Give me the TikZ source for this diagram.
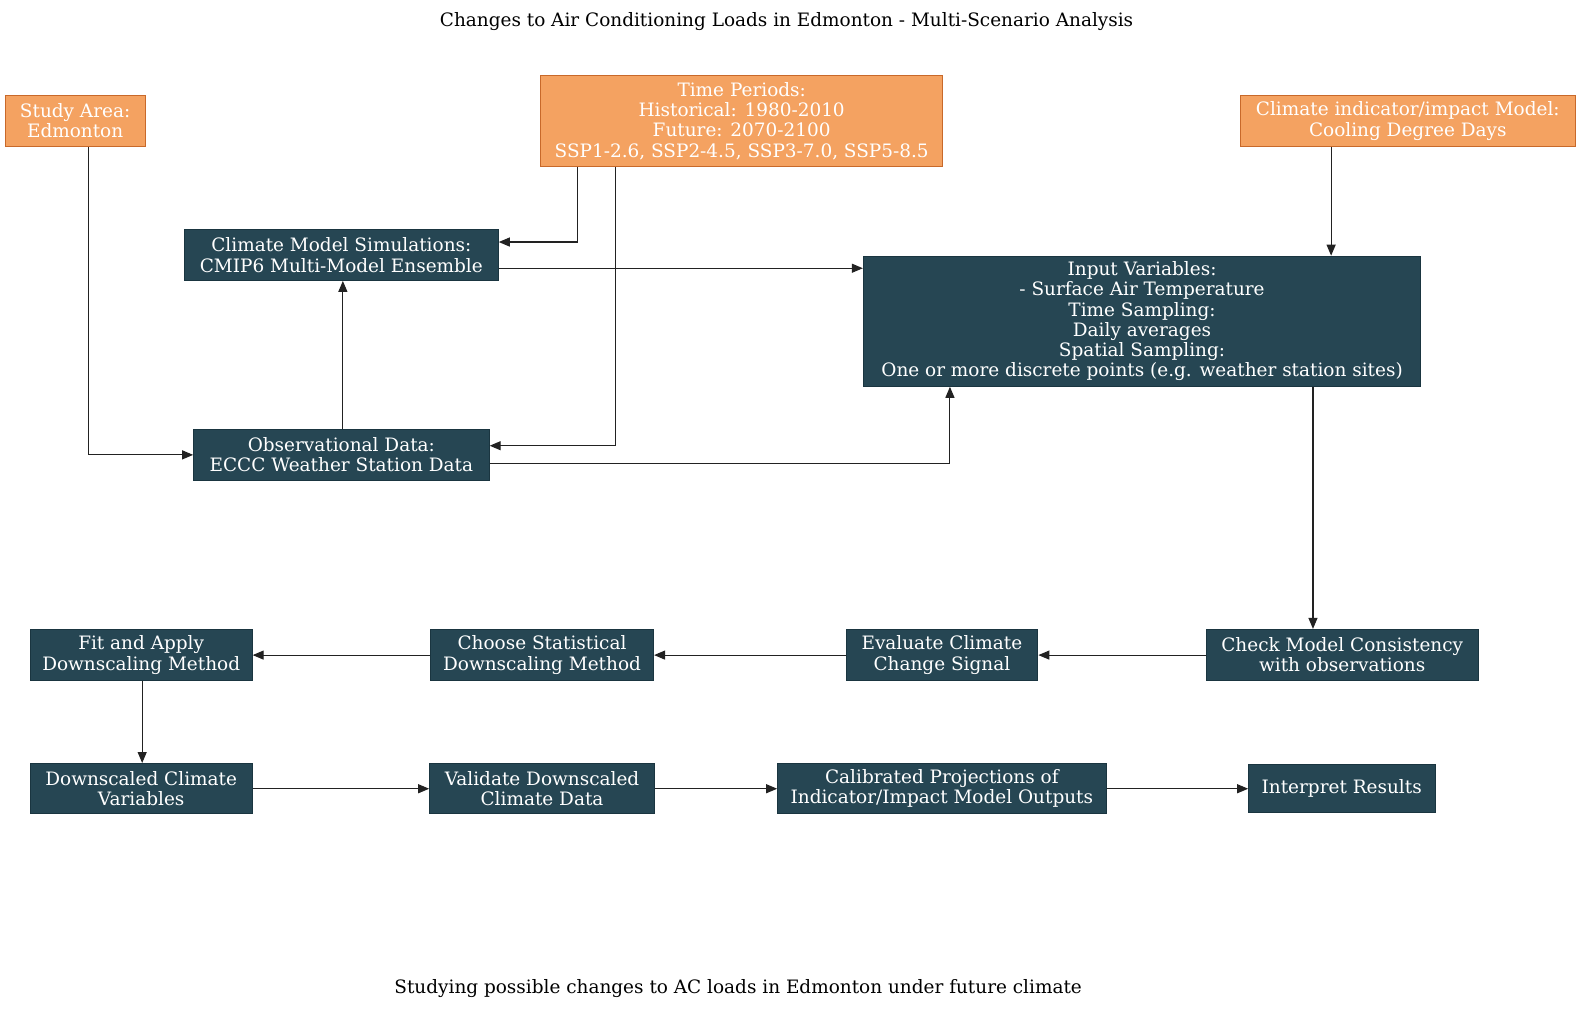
\documentclass[tikz,border=0pt]{standalone}
\usepackage{fontspec}
\setmainfont{DejaVu Serif}
\usetikzlibrary{arrows.meta}
\definecolor{orfill}{HTML}{F4A261}
\definecolor{ordraw}{HTML}{C8692A}
\definecolor{dkfill}{HTML}{264653}
\definecolor{dkdraw}{HTML}{1A3540}
\definecolor{edgec}{HTML}{222222}
\tikzset{
  base/.style={rectangle, align=center, text=white, inner sep=0pt, line width=1pt,
    font=\fontsize{18.3}{20}\selectfont},
  orbox/.style={base, fill=orfill, draw=ordraw},
  dkbox/.style={base, fill=dkfill, draw=dkdraw},
  conn/.style={draw=edgec, line width=1.1pt, -{Triangle[length=11pt,width=9pt]}},
  lbl/.style={font=\fontsize{18.3}{20}\selectfont, text=black, inner sep=0pt}
}
\begin{document}
\begin{tikzpicture}[x=1pt,y=-1pt,scale=1.0084,every node/.append style={transform shape}]
\useasboundingbox (0,0) rectangle (1567.8,1008.5);
\fill[white] (0,0) rectangle (1567.8,1008.5);

\node[lbl] (title) at (780,21) {Changes to Air Conditioning Loads in Edmonton - Multi-Scenario Analysis};
\node[lbl] (cap) at (732,980) {Studying possible changes to AC loads in Edmonton under future climate};

% orange nodes
\node[orbox, minimum width=139, minimum height=50] (study) at (74.5,120) {Study Area:\\Edmonton};
\node[orbox, minimum width=399, minimum height=90] (time) at (735.5,120) {Time Periods:\\Historical: 1980-2010\\Future: 2070-2100\\SSP1-2.6, SSP2-4.5, SSP3-7.0, SSP5-8.5};
\node[orbox, minimum width=332, minimum height=50] (cind) at (1396,120) {Climate indicator/impact Model:\\Cooling Degree Days};

% dark nodes
\node[dkbox, minimum width=311, minimum height=50] (cms) at (338.5,253) {Climate Model Simulations:\\CMIP6 Multi-Model Ensemble};
\node[dkbox, minimum width=553, minimum height=129] (inp) at (1132.5,318.5) {Input Variables:\\- Surface Air Temperature\\Time Sampling:\\Daily averages\\Spatial Sampling:\\One or more discrete points (e.g. weather station sites)};
\node[dkbox, minimum width=293, minimum height=50] (obs) at (338.5,451) {Observational Data:\\ECCC Weather Station Data};

\node[dkbox, minimum width=220, minimum height=51] (fit) at (140,649.5) {Fit and Apply\\Downscaling Method};
\node[dkbox, minimum width=221, minimum height=51] (choose) at (537.5,649.5) {Choose Statistical\\Downscaling Method};
\node[dkbox, minimum width=190, minimum height=51] (eval) at (934,649.5) {Evaluate Climate\\Change Signal};
\node[dkbox, minimum width=270, minimum height=51] (check) at (1331,649.5) {Check Model Consistency\\with observations};

\node[dkbox, minimum width=220, minimum height=50] (down) at (140,782) {Downscaled Climate\\Variables};
\node[dkbox, minimum width=223, minimum height=50] (valid) at (537.5,782) {Validate Downscaled\\Climate Data};
\node[dkbox, minimum width=326, minimum height=50] (calib) at (934,782) {Calibrated Projections of\\Indicator/Impact Model Outputs};
\node[dkbox, minimum width=185, minimum height=48] (interp) at (1330.5,782) {Interpret Results};

% connectors
\draw[conn] (study.south -| 88,0) |- (obs.west);
\draw[conn] (time.south -| 573,0) |- (cms.east |- 0,240);
\draw[conn] (time.south -| 610,0) |- (obs.east |- 0,442);
\draw[conn] (cms.east |- 0,266) -- (inp.west |- 0,266);
\draw[conn] (obs.north -| 340,0) -- (cms.south -| 340,0);
\draw[conn] (obs.east |- 0,460) -| (inp.south -| 942,0);
\draw[conn] (cind.south -| 1320,0) -- (inp.north -| 1320,0);
\draw[conn] (inp.south -| 1302,0) -- (check.north -| 1302,0);
\draw[conn] (check.west) -- (eval.east);
\draw[conn] (eval.west) -- (choose.east);
\draw[conn] (choose.west) -- (fit.east);
\draw[conn] (fit.south -| 141,0) -- (down.north -| 141,0);
\draw[conn] (down.east) -- (valid.west);
\draw[conn] (valid.east) -- (calib.west);
\draw[conn] (calib.east) -- (interp.west);
\end{tikzpicture}
\end{document}
